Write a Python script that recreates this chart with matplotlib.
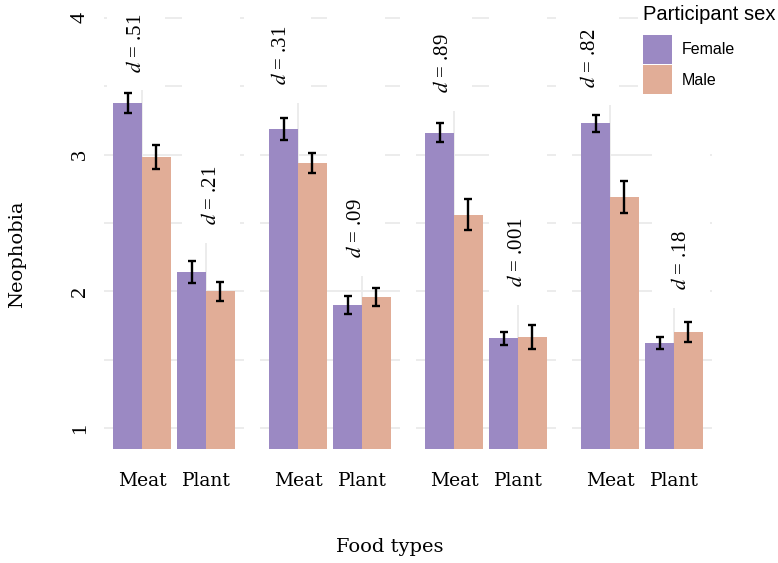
"""Neophobia by food type and participant sex, one panel per item set."""

import matplotlib.pyplot as plt
from matplotlib.patches import Patch, Rectangle
import numpy as np

plt.rcParams["mathtext.fontset"] = "stix"

FEMALE_COLOR = "#9B89C3"
MALE_COLOR = "#E1AD97"
GRID_COLOR = "#EBEBEB"

food_types = ["Meat", "Plant"]
sexes = ["Female", "Male"]

# mean neophobia per panel, [Meat, Plant]
female_mean = [[3.38, 2.14], [3.19, 1.90], [3.16, 1.655], [3.23, 1.62]]
male_mean = [[2.98, 2.00], [2.94, 1.96], [2.56, 1.665], [2.69, 1.70]]
female_se = [[0.073, 0.080], [0.080, 0.066], [0.070, 0.048], [0.062, 0.044]]
male_se = [[0.088, 0.070], [0.073, 0.066], [0.113, 0.088], [0.117, 0.073]]

# effect sizes printed above each food type (label start height, x nudge)
d_values = [[".51", ".21"], [".31", ".09"], [".89", ".001"], [".82", ".18"]]
d_label_y = [[3.60, 2.485], [3.51, 2.24], [3.45, 2.03], [3.49, 2.01]]
d_label_dx = [[-0.09, 0.08], [-0.25, -0.09], [-0.17, 0.0], [-0.31, 0.11]]

W, H = 778, 563
fig = plt.figure(figsize=(W / 100, H / 100), dpi=100)

BAR_W = 0.45
PANEL_W = 140.8            # px, x range 0.4 .. 2.6
PANEL_STEP = 156
PANEL_X0 = 103.6
PANEL_BOTTOM = 448.5       # px from top
PANEL_H = 451.1
YLIM = (0.85, 4.15)
LABEL_BG_PAD = 0.13        # white label background below the text, data units

x = np.arange(1, len(food_types) + 1)

for i in range(len(female_mean)):
    left = PANEL_X0 + i * PANEL_STEP
    ax = fig.add_axes([left / W, (H - PANEL_BOTTOM) / H, PANEL_W / W, PANEL_H / H])

    ax.bar(x - BAR_W / 2, female_mean[i], BAR_W, color=FEMALE_COLOR, zorder=3)
    ax.bar(x + BAR_W / 2, male_mean[i], BAR_W, color=MALE_COLOR, zorder=3)
    ax.errorbar(x - BAR_W / 2, female_mean[i], yerr=female_se[i], fmt="none",
                ecolor="black", elinewidth=1.7, capsize=3, capthick=1.7, zorder=4)
    ax.errorbar(x + BAR_W / 2, male_mean[i], yerr=male_se[i], fmt="none",
                ecolor="black", elinewidth=1.7, capsize=3, capthick=1.7, zorder=4)

    for k in range(len(food_types)):
        lx = x[k] + d_label_dx[i][k]
        ly = d_label_y[i][k]
        # label background runs from just under the text to the panel top
        ax.add_patch(Rectangle((lx - 0.45, ly - LABEL_BG_PAD), 0.9,
                               YLIM[1] - ly + LABEL_BG_PAD,
                               facecolor="white", edgecolor="none", zorder=1.5))
        ax.text(lx, ly, f"$d$ = {d_values[i][k]}", rotation=90,
                ha="center", va="bottom", fontsize=15,
                family="Liberation Serif", zorder=2)

    ax.set_xlim(0.4, 2.6)
    ax.set_ylim(*YLIM)
    ax.set_xticks(x)
    ax.set_xticklabels(food_types, family="DejaVu Serif", fontsize=13.5)
    ax.set_yticks([1, 2, 3, 4])
    ax.set_yticks([1.5, 2.5, 3.5], minor=True)
    if i == 0:
        ax.set_yticklabels(["1", "2", "3", "4"], rotation=90, va="center",
                           family="Liberation Serif", fontsize=16)
    else:
        ax.set_yticklabels([])
    ax.tick_params(axis="both", which="both", length=0)
    ax.tick_params(axis="x", pad=17)
    ax.tick_params(axis="y", pad=10)
    ax.grid(True, which="both", color=GRID_COLOR, linewidth=1.3)
    ax.set_axisbelow(True)
    for spine in ax.spines.values():
        spine.set_visible(False)

fig.text(17 / W, 1 - 254 / H, "Neophobia", rotation=90, ha="center", va="center",
         family="DejaVu Serif", fontsize=14)
fig.text(390 / W, 1 - 547 / H, "Food types", ha="center", va="center",
         family="DejaVu Serif", fontsize=14)

handles = [Patch(facecolor=FEMALE_COLOR, edgecolor="none", label=sexes[0]),
           Patch(facecolor=MALE_COLOR, edgecolor="none", label=sexes[1])]
leg = fig.legend(handles=handles, title="Participant sex", loc="upper left",
                 bbox_to_anchor=(638 / W, 1.0), frameon=True, facecolor="white",
                 edgecolor="none", framealpha=1, fancybox=False,
                 prop={"family": "Liberation Sans", "size": 11.5},
                 title_fontproperties={"family": "Liberation Sans", "size": 14.5},
                 handlelength=1.85, handleheight=2.4, handletextpad=0.6,
                 labelspacing=0.1, borderpad=0.3, borderaxespad=0,
                 alignment="left")
leg._legend_box.sep = 8    # room between the title and the keys

fig.savefig("out.png", dpi=100)
